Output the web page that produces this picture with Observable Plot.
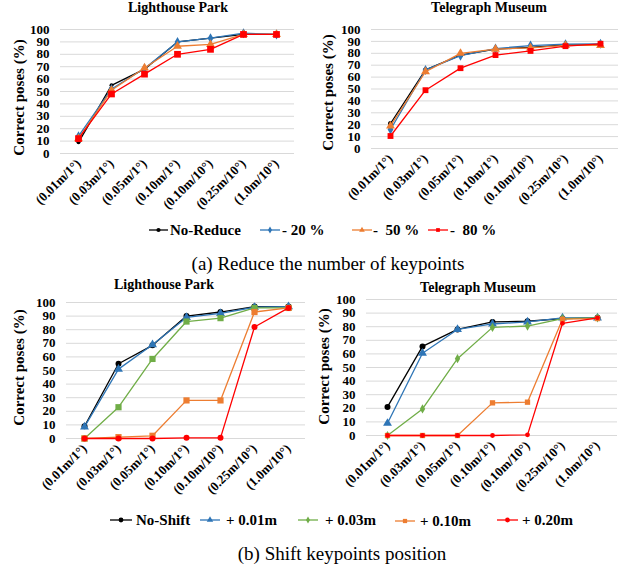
<!DOCTYPE html>
<html><head><meta charset="utf-8">
<script src="https://cdn.jsdelivr.net/npm/d3@7"></script>
<script src="https://cdn.jsdelivr.net/npm/@observablehq/plot@0.6"></script>
<style>
body{margin:0;background:#fff;font-family:"Liberation Serif","Times New Roman",serif;color:#000;}
#root{position:relative;width:623px;height:569px;overflow:hidden;background:#fff;}
.abs{position:absolute;}
.title{font-weight:bold;font-size:14px;white-space:nowrap;transform:translate(-50%,-50%);line-height:1;}
.cap{font-size:19px;white-space:nowrap;transform:translate(-50%,-50%);line-height:1;}
.leg{font-weight:bold;font-size:15px;white-space:pre;transform:translateY(-50%);line-height:1;}
svg.legsym{position:absolute;overflow:visible;}
</style></head><body><div id="root"></div>
<script>
const categories = ["(0.01m/1°)", "(0.03m/1°)", "(0.05m/1°)", "(0.10m/1°)", "(0.10m/10°)", "(0.25m/10°)", "(1.0m/10°)"];
const yTicks = [0, 10, 20, 30, 40, 50, 60, 70, 80, 90, 100];

const reduceSeries = ["No-Reduce", "- 20 %", "-  50 %", "-  80 %"];
const shiftSeries = ["No-Shift", "+ 0.01m", "+ 0.03m", "+ 0.10m", "+ 0.20m"];

// (a) Lighthouse Park, reduce keypoints
const lhNoReduce = [9, 55, 68, 90, 93, 96, 96];
const lhReduce20 = [14, 52, 68.5, 90, 93, 97, 96];
const lhReduce50 = [12, 51, 69, 86.5, 88, 96, 96];
const lhReduce80 = [12, 48, 64, 80, 84, 96, 96];
// (a) Telegraph Museum, reduce keypoints
const tmNoReduce = [21, 66, 78.5, 83.5, 85, 87, 87];
const tmReduce20 = [16, 66, 78, 84, 86.5, 87.7, 88];
const tmReduce50 = [19, 64.5, 80, 83.5, 84.5, 86.6, 86.6];
const tmReduce80 = [10.5, 49, 67.5, 78.5, 82, 86, 88];
// (b) Lighthouse Park, shift keypoints
const lhNoShift = [9, 55, 68.5, 90, 93, 97, 97];
const lhShift001 = [8.5, 51, 69, 89, 92, 96.5, 97];
const lhShift003 = [0, 23, 58.5, 86, 88.5, 96, 96];
const lhShift010 = [0, 1, 2, 28, 28, 93, 96];
const lhShift020 = [0, 0, 0, 0.5, 0.5, 82, 96];
// (b) Telegraph Museum, shift keypoints
const tmNoShift = [21, 65.5, 78, 83.5, 84, 86, 86.5];
const tmShift001 = [9, 60.5, 78, 82, 83.5, 86.5, 86.5];
const tmShift003 = [0, 19.5, 56.5, 79.5, 80.5, 86, 86.5];
const tmShift010 = [0, 0, 0, 24, 24.5, 85.5, 86];
const tmShift020 = [0, 0, 0, 0, 0.5, 82.5, 86.5];

const BLACK = "#000000", BLUE = "#2E75B6", ORANGE = "#ED7D31", RED = "#FF0000", GREEN = "#70AD47";
const FONT = "'Liberation Serif','Times New Roman',serif";
const root = document.getElementById("root");

function panel(o) {
  const marks = [
    Plot.gridY(yTicks, {stroke: "#d9d9d9", strokeOpacity: 1, strokeWidth: 1}),
    Plot.axisY(yTicks, {tickSize: 0, tickPadding: 11, fontSize: 13, fontWeight: "bold", label: null}),
    Plot.axisX({tickRotate: -45, tickSize: 0, tickPadding: 8, fontSize: 13, fontWeight: "bold", label: null}),
    Plot.text(["Correct poses (%)"], {frameAnchor: "left", textAnchor: "middle", lineAnchor: "middle", rotate: -90,
      dx: o.yTitleX - o.ml, dy: o.yTitleDy, fontSize: 15, fontWeight: "bold"})
  ];
  o.values.forEach((vals, i) => {
    const data = categories.map((c, j) => ({cat: c, v: vals[j]}));
    marks.push(Plot.line(data, {x: "cat", y: "v", stroke: o.colors[i], strokeWidth: 1.3}));
    marks.push(Plot.dot(data, {x: "cat", y: "v", symbol: o.symbols[i], fill: o.colors[i], stroke: "none", r: o.radii[i]}));
  });
  const svg = Plot.plot({
    width: o.width, height: o.height,
    marginTop: o.mt, marginBottom: o.height - o.y0, marginLeft: o.ml, marginRight: o.mr,
    x: {type: "point", domain: categories, padding: 0.5},
    y: {domain: [0, 100]},
    style: {fontFamily: FONT, color: "#000", background: "transparent", overflow: "visible"},
    marks
  });
  svg.style.position = "absolute";
  svg.style.left = o.left + "px";
  svg.style.top = o.top + "px";
  root.appendChild(svg);
  const t = document.createElement("div");
  t.className = "abs title";
  t.textContent = o.title;
  t.style.left = o.titleX + "px";
  t.style.top = o.titleY + "px";
  root.appendChild(t);
}

panel({title: "Lighthouse Park", titleX: 178, titleY: 8, left: 0, top: 0, width: 311, height: 220, mt: 29, y0: 153, ml: 60, mr: 17,
  yTitleX: 19, yTitleDy: 6,
  values: [lhNoReduce, lhReduce20, lhReduce50, lhReduce80], colors: [BLACK, BLUE, ORANGE, RED],
  symbols: ["circle", "diamond", "triangle", "square"], radii: [2, 3, 3.3, 3.8]});
panel({title: "Telegraph Museum", titleX: 489, titleY: 8, left: 311, top: 0, width: 312, height: 220, mt: 29, y0: 148, ml: 60, mr: 5,
  yTitleX: 17, yTitleDy: 3.5,
  values: [tmNoReduce, tmReduce20, tmReduce50, tmReduce80], colors: [BLACK, BLUE, ORANGE, RED],
  symbols: ["circle", "diamond", "triangle", "square"], radii: [2.5, 3, 3.3, 3.3]});
panel({title: "Lighthouse Park", titleX: 164, titleY: 285, left: 0, top: 270, width: 311, height: 235, mt: 32, y0: 168, ml: 66, mr: 6,
  yTitleX: 19, yTitleDy: -3,
  values: [lhNoShift, lhShift001, lhShift003, lhShift010, lhShift020], colors: [BLACK, BLUE, GREEN, ORANGE, RED],
  symbols: ["circle", "triangle", "square", "square", "circle"], radii: [3, 3.3, 3.5, 3.5, 3]});
panel({title: "Telegraph Museum", titleX: 478, titleY: 288, left: 311, top: 270, width: 312, height: 235, mt: 29, y0: 165, ml: 55, mr: 6,
  yTitleX: 12.5, yTitleDy: -1,
  values: [tmNoShift, tmShift001, tmShift003, tmShift010, tmShift020], colors: [BLACK, BLUE, GREEN, ORANGE, RED],
  symbols: ["circle", "triangle", "diamond", "square", "circle"], radii: [3, 3.3, 2.8, 3, 2.4]});

const symMap = {circle: d3.symbolCircle, diamond: d3.symbolDiamond, triangle: d3.symbolTriangle, square: d3.symbolSquare};
function legendItem(x0, x1, y, color, sym, size, label, tx) {
  const s = d3.create("svg").attr("class", "legsym").attr("width", x1 - x0).attr("height", 12)
    .style("left", x0 + "px").style("top", (y - 6) + "px");
  s.append("line").attr("x1", 0).attr("x2", x1 - x0).attr("y1", 6).attr("y2", 6).attr("stroke", color).attr("stroke-width", 1.3);
  s.append("path").attr("d", d3.symbol(symMap[sym], size)()).attr("transform", `translate(${(x1 - x0) / 2},6)`).attr("fill", color);
  root.appendChild(s.node());
  const t = document.createElement("div");
  t.className = "abs leg";
  t.textContent = label;
  t.style.left = tx + "px";
  t.style.top = y + "px";
  root.appendChild(t);
}
legendItem(149, 168, 230, BLACK, "circle", 14, reduceSeries[0], 170);
legendItem(260, 280, 230, BLUE, "diamond", 14, reduceSeries[1], 282);
legendItem(352, 372, 230, ORANGE, "triangle", 14, reduceSeries[2], 373);
legendItem(428, 448, 230, RED, "square", 14, reduceSeries[3], 450);

legendItem(110, 132, 520, BLACK, "circle", 18, shiftSeries[0], 136);
legendItem(200, 220, 520, BLUE, "triangle", 18, shiftSeries[1], 226);
legendItem(298, 318, 520, GREEN, "diamond", 14, shiftSeries[2], 325);
legendItem(395, 415, 521, ORANGE, "square", 18, shiftSeries[3], 420);
legendItem(497, 518, 520, RED, "circle", 18, shiftSeries[4], 522);

function caption(text, x, y) {
  const c = document.createElement("div");
  c.className = "abs cap";
  c.textContent = text;
  c.style.left = x + "px";
  c.style.top = y + "px";
  root.appendChild(c);
}
caption("(a) Reduce the number of keypoints", 328, 263);
caption("(b) Shift keypoints position", 342, 553);
</script>
</body></html>
